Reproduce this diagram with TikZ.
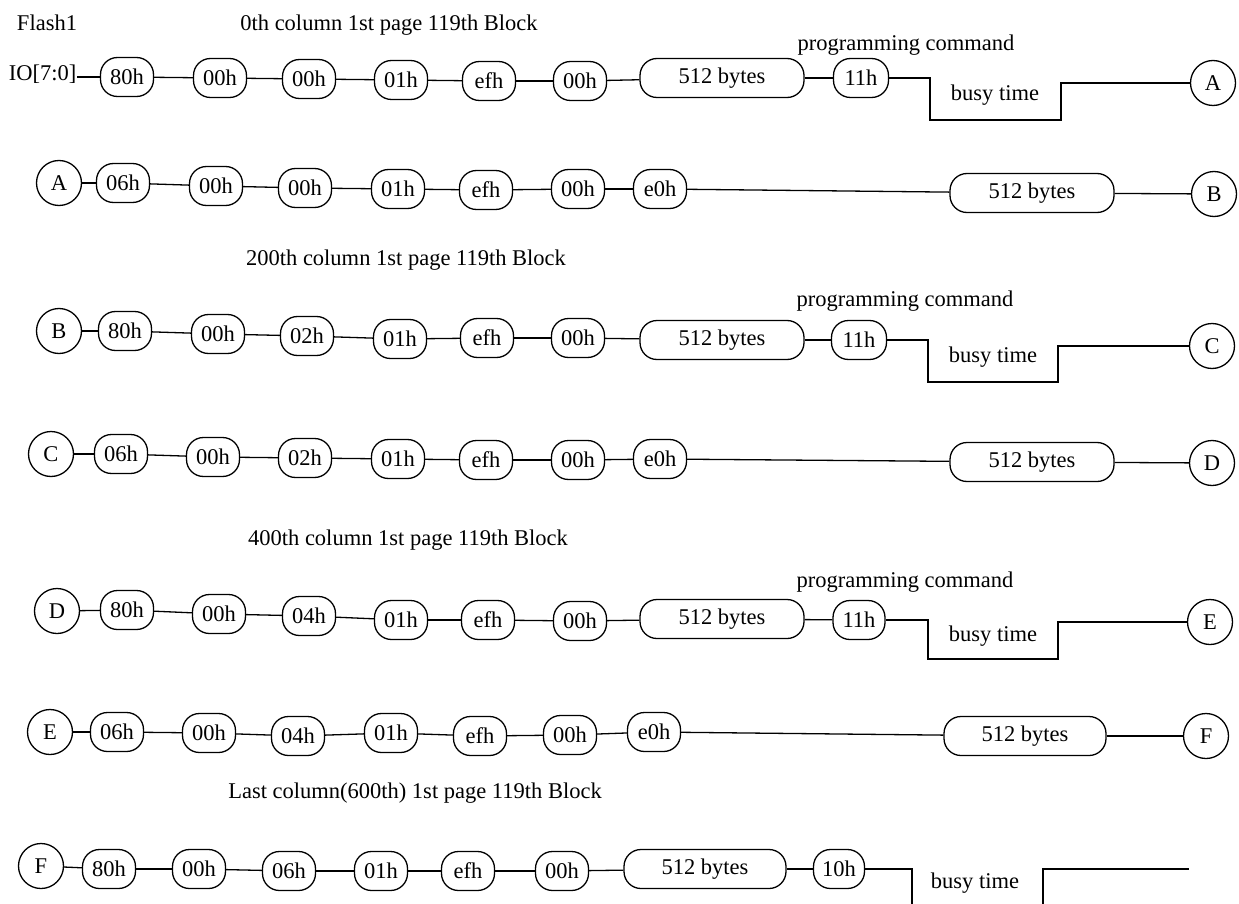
\documentclass[tikz,border=0pt]{standalone}
\usepackage{fontspec}
\setmainfont{Liberation Serif}
\begin{document}
\begin{tikzpicture}[x=1pt,y=-1pt,line width=1.3pt,
  txt/.style={font=\fontsize{22.5}{22.5}\selectfont},
  bx/.style={draw,rounded corners=17pt,minimum height=39pt,minimum width=53pt,inner sep=0pt,txt},
  wb/.style={bx,minimum width=164pt},
  cir/.style={draw,circle,minimum size=45pt,inner sep=0pt,txt},
  lbl/.style={inner sep=0pt,txt}]
\path[use as bounding box] (0,0) rectangle (1239,904);
% ---------- row 1
\node[lbl] (flash) at (47,23) {Flash1};
\node[lbl] (h1) at (389,25) {0th column 1st page 119th Block};
\node[lbl,anchor=base east] (io) at (77,81) {IO[7:0]};
\node[bx] (a1) at (127,77) {80h};
\node[bx] (a2) at (220,78) {00h};
\node[bx] (a3) at (309,79) {00h};
\node[bx] (a4) at (401,80) {01h};
\node[bx] (a5) at (489,81) {efh};
\node[bx] (a6) at (580,81) {00h};
\node[wb] (a7) at (722,78) {512 bytes};
\node[bx,minimum width=55pt] (a8) at (861,78) {11h};
\node[cir] (A1) at (1213,83) {A};
\node[lbl] (pc1) at (906,45) {programming command};
\node[lbl] (bt1) at (995,95) {busy time};
\draw ([yshift=4pt]io.base east) -- (a1);
\foreach \u/\v in {a1/a2,a2/a3,a3/a4,a4/a5,a5/a6,a6/a7,a7/a8} \draw (\u) -- (\v);
\draw (a8.east) -- (930,78) |- (1061,120) |- (A1.west);
% ---------- row 2
\node[cir] (A2) at (59,183) {A};
\node[bx] (b1) at (123,183) {06h};
\node[bx] (b2) at (216,186) {00h};
\node[bx] (b3) at (305,188) {00h};
\node[bx] (b4) at (398,189) {01h};
\node[bx] (b5) at (486,190) {efh};
\node[bx] (b6) at (578,189) {00h};
\node[bx] (b7) at (660,189) {e0h};
\node[wb] (b8) at (1032,193) {512 bytes};
\node[cir] (B1) at (1214,194) {B};
\foreach \u/\v in {A2/b1,b1/b2,b2/b3,b3/b4,b4/b5,b5/b6,b6/b7,b7/b8,b8/B1} \draw (\u) -- (\v);
% ---------- row 3
\node[lbl] (h2) at (406,260) {200th column 1st page 119th Block};
\node[cir] (B2) at (59,331) {B};
\node[bx] (c1) at (125,331) {80h};
\node[bx] (c2) at (218,334) {00h};
\node[bx] (c3) at (307,336) {02h};
\node[bx] (c4) at (400,339) {01h};
\node[bx] (c5) at (487,338) {efh};
\node[bx] (c6) at (578,338) {00h};
\node[wb] (c7) at (722,340) {512 bytes};
\node[bx,minimum width=55pt] (c8) at (859,340) {11h};
\node[cir] (C1) at (1212,346) {C};
\node[lbl] (pc2) at (905,301) {programming command};
\node[lbl] (bt2) at (993,357) {busy time};
\foreach \u/\v in {B2/c1,c1/c2,c2/c3,c3/c4,c4/c5,c5/c6,c6/c7,c7/c8} \draw (\u) -- (\v);
\draw (c8.east) -- (928,340) |- (1058,382) |- (C1.west);
% ---------- row 4
\node[cir] (C2) at (51,454) {C};
\node[bx] (d1) at (121,454) {06h};
\node[bx] (d2) at (213,457) {00h};
\node[bx] (d3) at (305,458) {02h};
\node[bx] (d4) at (398,459) {01h};
\node[bx] (d5) at (486,460) {efh};
\node[bx] (d6) at (578,460) {00h};
\node[bx] (d7) at (660,459) {e0h};
\node[wb] (d8) at (1032,462) {512 bytes};
\node[cir] (D1) at (1212,463) {D};
\foreach \u/\v in {C2/d1,d1/d2,d2/d3,d3/d4,d4/d5,d5/d6,d6/d7,d7/d8,d8/D1} \draw (\u) -- (\v);
% ---------- row 5
\node[lbl] (h3) at (408,540) {400th column 1st page 119th Block};
\node[cir] (D2) at (57,611) {D};
\node[bx] (e1) at (127,610) {80h};
\node[bx] (e2) at (219,614) {00h};
\node[bx] (e3) at (309,616) {04h};
\node[bx] (e4) at (401,620) {01h};
\node[bx] (e5) at (488,620) {efh};
\node[bx] (e6) at (580,621) {00h};
\node[wb] (e7) at (722,619) {512 bytes};
\node[bx,minimum width=52pt] (e8) at (859,620) {11h};
\node[cir] (E1) at (1210,622) {E};
\node[lbl] (pc3) at (905,582) {programming command};
\node[lbl] (bt3) at (993,636) {busy time};
\foreach \u/\v in {D2/e1,e1/e2,e2/e3,e3/e4,e4/e5,e5/e6,e6/e7,e7/e8} \draw (\u) -- (\v);
\draw (e8.east) -- (928,620) |- (1058,659) |- (E1.west);
% ---------- row 6
\node[cir] (E2) at (50,732) {E};
\node[bx] (f1) at (117,732) {06h};
\node[bx] (f2) at (209,733) {00h};
\node[bx] (f3) at (298,736) {04h};
\node[bx] (f4) at (391,733) {01h};
\node[bx] (f5) at (480,736) {efh};
\node[bx] (f6) at (570,735) {00h};
\node[bx] (f7) at (654,732) {e0h};
\node[wb,minimum width=162pt] (f8) at (1025,736) {512 bytes};
\node[cir] (F1) at (1206,736) {F};
\foreach \u/\v in {E2/f1,f1/f2,f2/f3,f3/f4,f4/f5,f5/f6,f6/f7,f7/f8,f8/F1} \draw (\u) -- (\v);
% ---------- row 7
\node[lbl] (h4) at (415,793) {Last column(600th) 1st page 119th Block};
\node[cir] (F2) at (41,866) {F};
\node[bx] (g1) at (109,869) {80h};
\node[bx] (g2) at (199,869) {00h};
\node[bx] (g3) at (289,871) {06h};
\node[bx] (g4) at (381,871) {01h};
\node[bx] (g5) at (468,871) {efh};
\node[bx] (g6) at (562,871) {00h};
\node[wb,minimum width=162pt] (g7) at (705,869) {512 bytes};
\node[bx,minimum width=51pt] (g8) at (839,869) {10h};
\node[lbl] (bt4) at (975,883) {busy time};
\coordinate (g9) at (1043,904);
\coordinate (g10) at (1189,869);
\foreach \u/\v in {F2/g1,g1/g2,g2/g3,g3/g4,g4/g5,g5/g6,g6/g7,g7/g8} \draw (\u) -- (\v);
\draw (g8.east) -| (912,904);
\draw (g9) |- (g10);
\end{tikzpicture}
\end{document}
